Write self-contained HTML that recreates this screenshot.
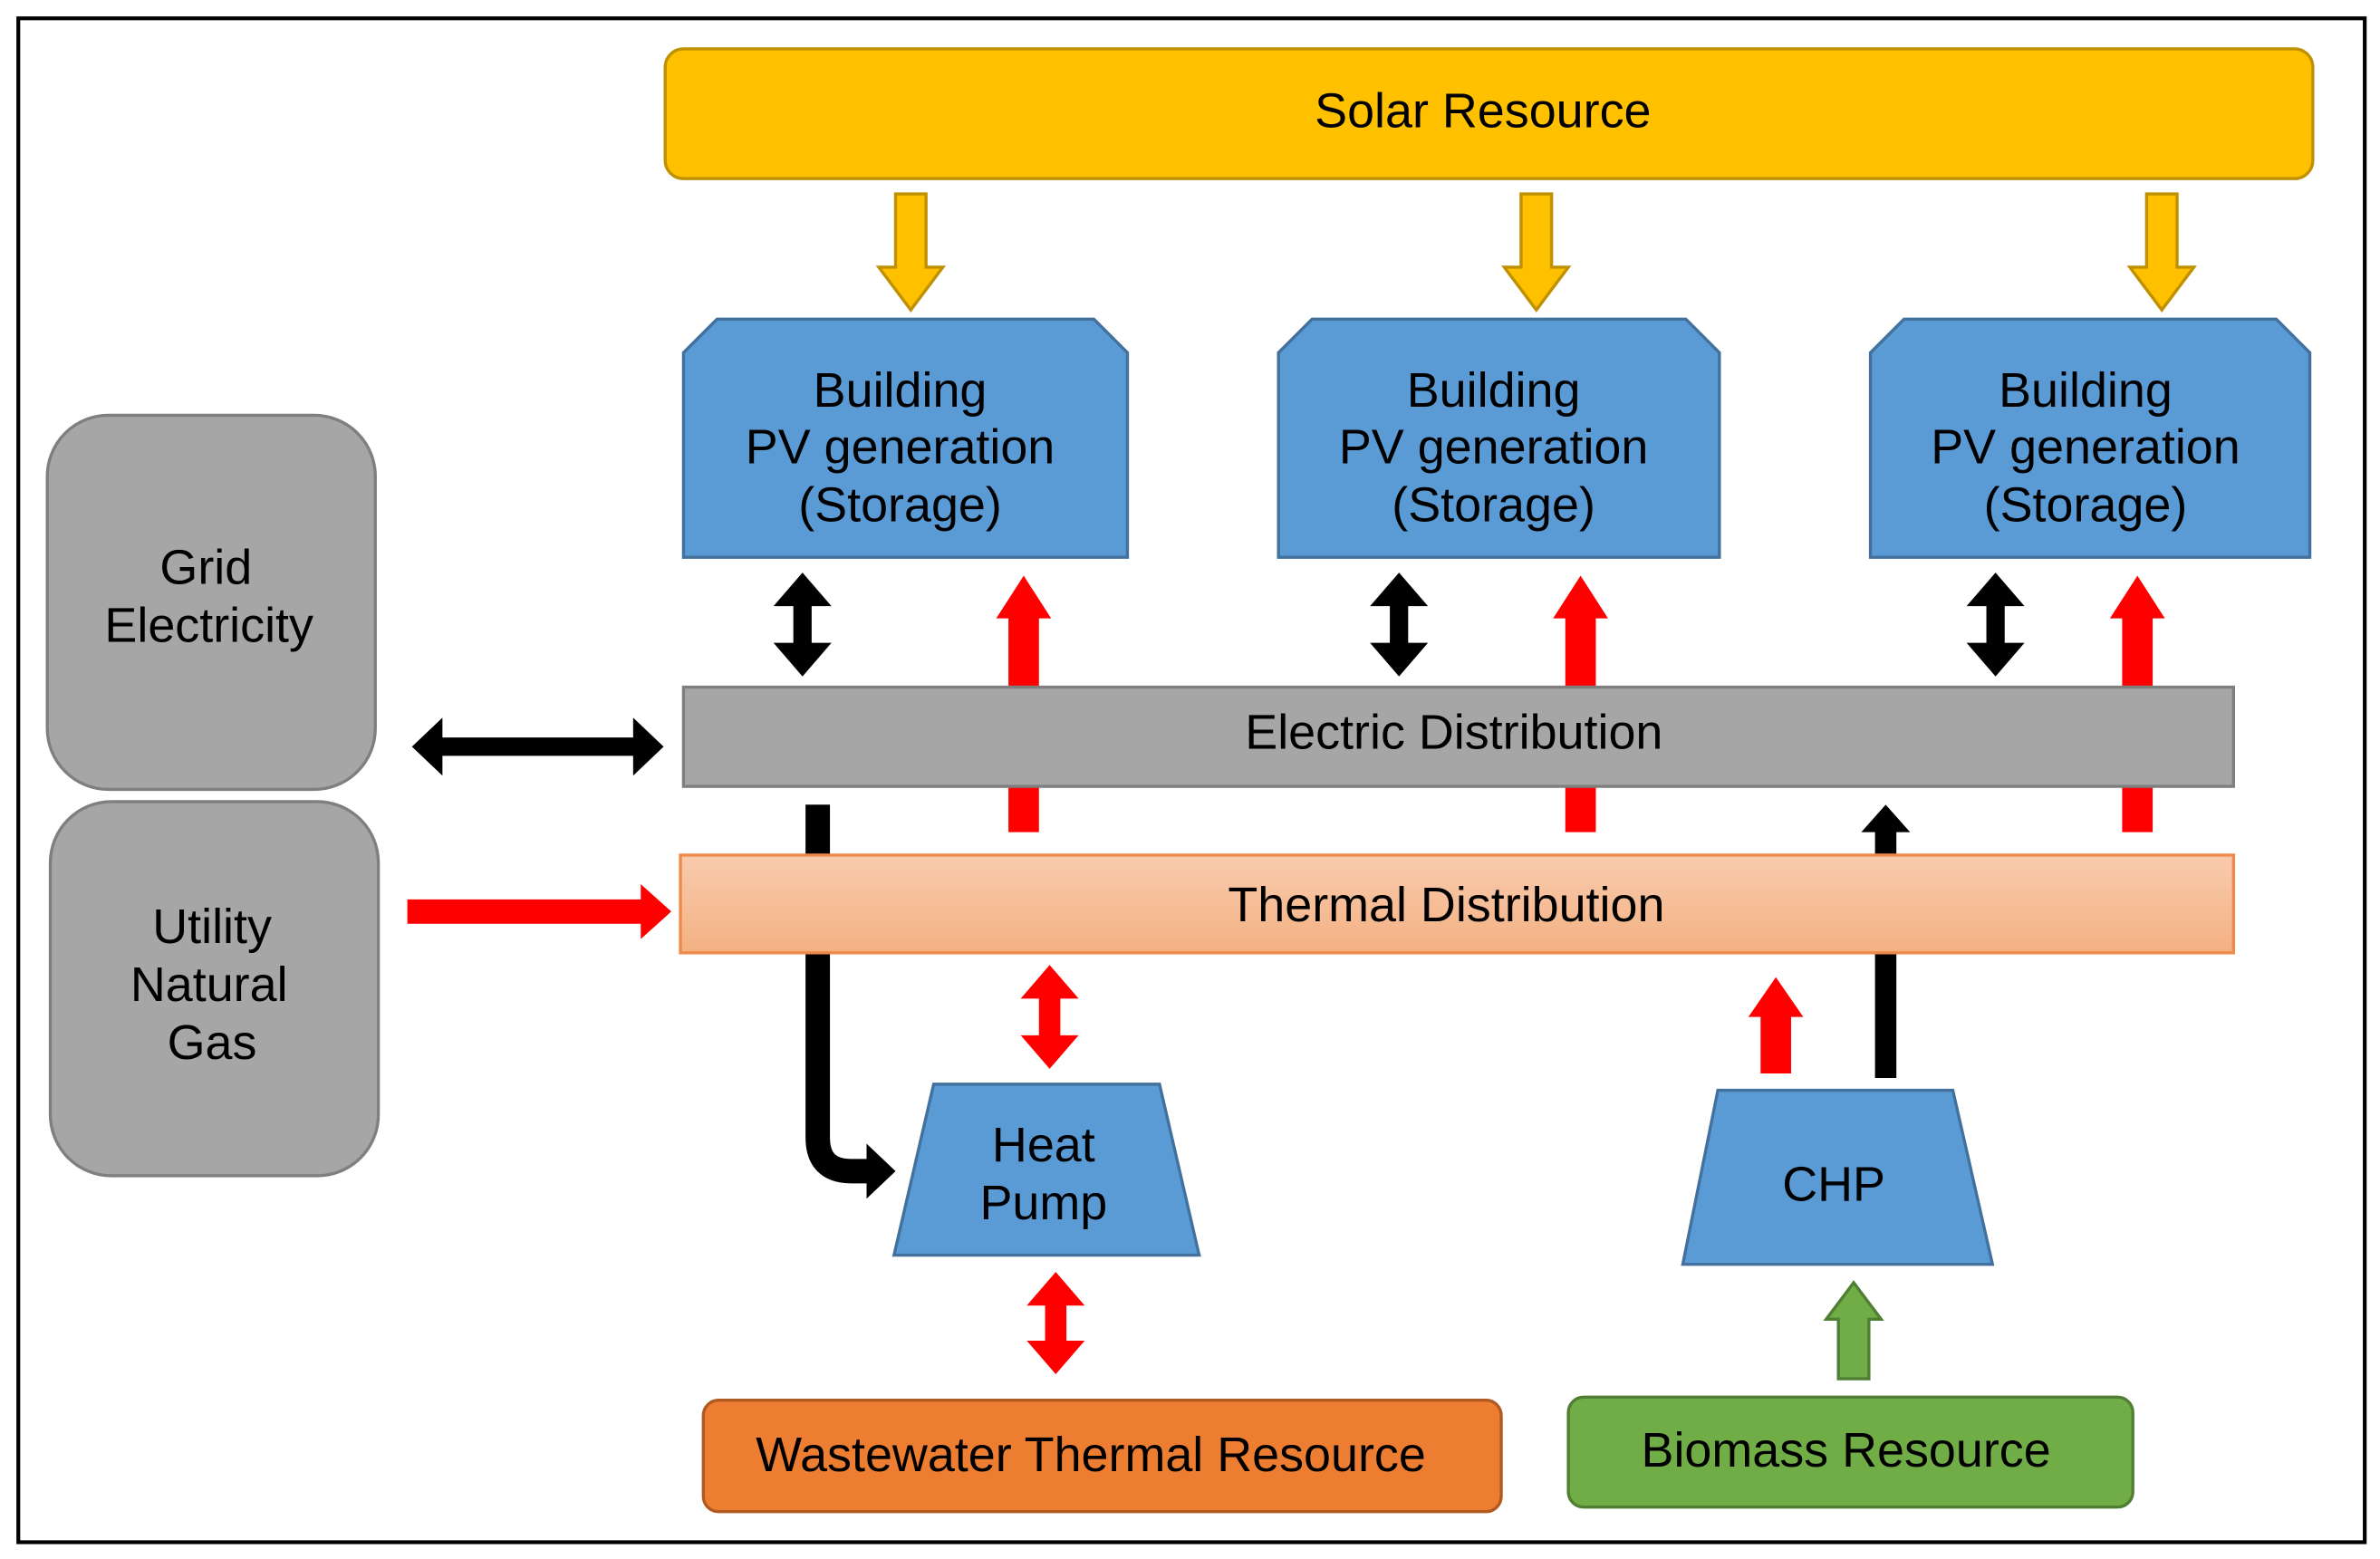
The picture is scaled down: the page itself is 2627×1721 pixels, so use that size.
<!DOCTYPE html>
<html><head><meta charset="utf-8"><style>
html,body{margin:0;padding:0;background:#fff;}
svg{display:block;}
text{font-family:"Liberation Sans",Arial,sans-serif;font-size:32px;fill:#000;text-anchor:middle;dominant-baseline:middle;}
</style></head><body>
<svg width="2627" height="1721" viewBox="0 0 1560 1021" preserveAspectRatio="none" xmlns="http://www.w3.org/2000/svg">
<defs>
<linearGradient id="th" x1="0" y1="0" x2="0" y2="1"><stop offset="0" stop-color="#F8CBAD"/><stop offset="1" stop-color="#F4B183"/></linearGradient>
</defs>
<rect x="0" y="0" width="1560" height="1021" fill="#fff"/>
<rect x="12" y="12" width="1538" height="998" fill="none" stroke="#000" stroke-width="2.5"/>

<rect x="436" y="32" width="1080" height="85" rx="12" fill="#FFC000" stroke="#BF9000" stroke-width="2"/>
<text x="972" y="75">Solar Resource</text>

<g fill="#FFC000" stroke="#BF9000" stroke-width="2">
<polygon points="587,127 607,127 607,175 618,175 597,203 576,175 587,175"/>
<polygon points="997,127 1017,127 1017,175 1028,175 1007,203 986,175 997,175"/>
<polygon points="1407,127 1427,127 1427,175 1438,175 1417,203 1396,175 1407,175"/>
</g>

<g fill="#5B9BD5" stroke="#41719C" stroke-width="2">
<polygon points="470,209 717,209 739,231 739,365 448,365 448,231"/>
<polygon points="860,209 1105,209 1127,231 1127,365 838,365 838,231"/>
<polygon points="1248,209 1492,209 1514,231 1514,365 1226,365 1226,231"/>
</g>
<text x="590" y="258">Building</text><text x="590" y="295">PV generation</text><text x="590" y="333">(Storage)</text>
<text x="979" y="258">Building</text><text x="979" y="295">PV generation</text><text x="979" y="333">(Storage)</text>
<text x="1367" y="258">Building</text><text x="1367" y="295">PV generation</text><text x="1367" y="333">(Storage)</text>

<rect x="31" y="272" width="215" height="245" rx="40" fill="#A6A6A6" stroke="#7F7F7F" stroke-width="2"/>
<text x="135" y="374">Grid</text><text x="137" y="412">Electricity</text>
<rect x="33" y="525" width="215" height="245" rx="40" fill="#A6A6A6" stroke="#7F7F7F" stroke-width="2"/>
<text x="139" y="609">Utility</text><text x="137" y="647">Natural</text><text x="139" y="685">Gas</text>

<g fill="#FF0000">
<polygon points="671,377 689,405 681,405 681,545 661,545 661,405 653,405"/>
<polygon points="1036,377 1054,405 1046,405 1046,545 1026,545 1026,405 1018,405"/>
<polygon points="1401,377 1419,405 1411,405 1411,545 1391,545 1391,405 1383,405"/>
</g>

<path d="M536,527 L536,745 Q536,767 558,767 L570,767" fill="none" stroke="#000" stroke-width="16"/>
<polygon points="568,749 587,767 568,785" fill="#000"/>
<polygon points="1236,527 1252,545 1243,545 1243,706 1229,706 1229,545 1220,545" fill="#000"/>

<rect x="448" y="450" width="1016" height="65" fill="#A6A6A6" stroke="#7F7F7F" stroke-width="2"/>
<text x="953" y="482">Electric Distribution</text>

<rect x="446" y="560" width="1018" height="64" fill="url(#th)" stroke="#F08A4B" stroke-width="2"/>
<text x="948" y="595">Thermal Distribution</text>

<g fill="#000">
<polygon points="526,375 545,397 532,397 532,421 545,421 526,443 507,421 520,421 520,397 507,397"/>
<polygon points="917,375 936,397 923,397 923,421 936,421 917,443 898,421 911,421 911,397 898,397"/>
<polygon points="1308,375 1327,397 1314,397 1314,421 1327,421 1308,443 1289,421 1302,421 1302,397 1289,397"/>
<polygon points="270,489 290,470 290,483 415,483 415,470 435,489 415,508 415,495 290,495 290,508"/>
</g>

<polygon points="267,589 420,589 420,579 440,597 420,615 420,605 267,605" fill="#FF0000"/>

<g fill="#FF0000">
<polygon points="688,632 707,654 695,654 695,678 707,678 688,700 669,678 681,678 681,654 669,654"/>
<polygon points="692,833 711,855 699,855 699,878 711,878 692,900 673,878 685,878 685,855 673,855"/>
<polygon points="1164,640 1182,666 1174,666 1174,703 1154,703 1154,666 1146,666"/>
</g>

<polygon points="612,710 760,710 786,822 586,822" fill="#5B9BD5" stroke="#41719C" stroke-width="2"/>
<text x="684" y="752">Heat</text><text x="684" y="790">Pump</text>

<polygon points="1126,714 1280,714 1306,828 1103,828" fill="#5B9BD5" stroke="#41719C" stroke-width="2"/>
<text x="1202" y="778">CHP</text>

<polygon points="1215,840 1233,864 1225,864 1225,903 1205,903 1205,864 1197,864" fill="#70AD47" stroke="#507E32" stroke-width="2"/>

<rect x="461" y="917" width="523" height="73" rx="10" fill="#ED7D31" stroke="#AE5A21" stroke-width="2"/>
<text x="715" y="955">Wastewater Thermal Resource</text>

<rect x="1028" y="915" width="370" height="72" rx="10" fill="#70AD47" stroke="#507E32" stroke-width="2"/>
<text x="1210" y="952">Biomass Resource</text>
</svg>
</body></html>
